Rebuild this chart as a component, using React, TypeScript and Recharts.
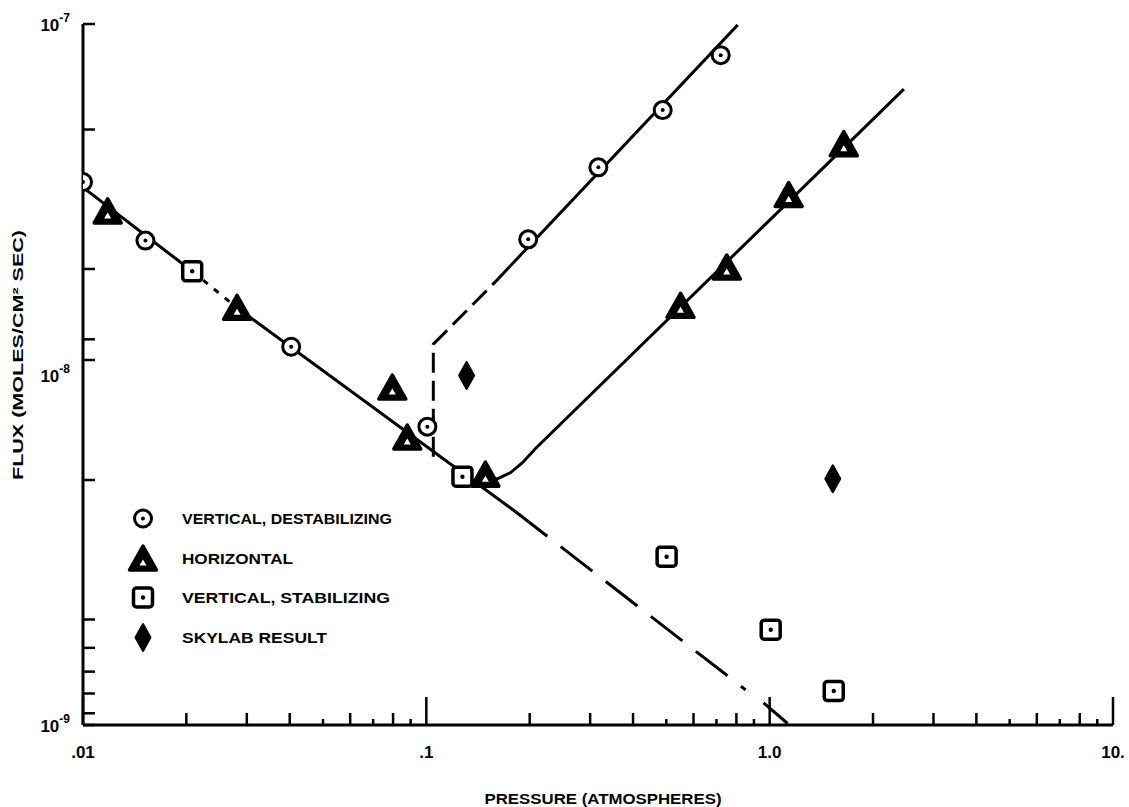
import { ScatterChart, Scatter, XAxis, YAxis, Legend } from 'recharts';

// Flux vs pressure, log-log.

const xTicks = [
  0.01, 0.02, 0.03, 0.04, 0.05, 0.06, 0.07, 0.08, 0.09,
  0.1, 0.2, 0.3, 0.4, 0.5, 0.6, 0.7, 0.8, 0.9,
  1, 2, 3, 4, 5, 6, 7, 8, 9, 10,
];
const xMajor = [0.01, 0.1, 1, 10];
const xMajorLabels = ['.01', '.1', '1.0', '10.'];
const xShortTicks = [0.05, 0.07, 0.09, 0.5, 0.7, 0.9, 5, 7, 9];

const yTicks = [1e-9, 1.08e-9, 1.23e-9, 1.42e-9, 1.66e-9, 2e-9, 5e-9, 1e-8, 1.1e-8, 1.26e-8, 2e-8, 5e-8, 1e-7];
const yDecades = [1e-9, 1e-8, 1e-7];
const yDecadeExp = ['-9', '-8', '-7'];

// measured points
const destabilizing = [
  { x: 0.01, y: 3.54e-8 },
  { x: 0.0152, y: 2.41e-8 },
  { x: 0.0404, y: 1.2e-8 },
  { x: 0.1007, y: 7.1e-9 },
  { x: 0.198, y: 2.43e-8 },
  { x: 0.317, y: 3.9e-8 },
  { x: 0.488, y: 5.68e-8 },
  { x: 0.72, y: 8.15e-8 },
];
const horizontal = [
  { x: 0.0118, y: 2.92e-8 },
  { x: 0.0281, y: 1.55e-8 },
  { x: 0.0796, y: 9.18e-9 },
  { x: 0.088, y: 6.61e-9 },
  { x: 0.1486, y: 5.18e-9 },
  { x: 0.55, y: 1.57e-8 },
  { x: 0.75, y: 2.02e-8 },
  { x: 1.136, y: 3.25e-8 },
  { x: 1.644, y: 4.54e-8 },
];
const stabilizing = [
  { x: 0.0208, y: 1.97e-8 },
  { x: 0.1274, y: 5.11e-9 },
  { x: 0.501, y: 3.02e-9 },
  { x: 1.007, y: 1.87e-9 },
  { x: 1.537, y: 1.25e-9 },
];
const skylab = [
  { x: 0.131, y: 9.94e-9 },
  { x: 1.527, y: 5.04e-9 },
];

// hand-drawn fit lines
const fallSolid1 = [{ x: 0.01, y: 3.42e-8 }, { x: 0.0208, y: 1.97e-8 }];
const fallDotted = [{ x: 0.0208, y: 1.97e-8 }, { x: 0.0281, y: 1.55e-8 }];
const fallSolid2 = [{ x: 0.0281, y: 1.55e-8 }, { x: 0.182, y: 4.06e-9 }];
const fallDashed = [{ x: 0.182, y: 4.06e-9 }, { x: 0.851, y: 1.26e-9 }];
const fallTail = [{ x: 0.96, y: 1.156e-9 }, { x: 1.128, y: 1.01e-9 }];
const riseDashed = [{ x: 0.1048, y: 5.83e-9 }, { x: 0.1048, y: 1.22e-8 }, { x: 0.159, y: 1.84e-8 }];
const riseSolid = [{ x: 0.159, y: 1.84e-8 }, { x: 0.807, y: 9.94e-8 }];
const horizCurve = [
  { x: 0.1437, y: 4.98e-9 },
  { x: 0.161, y: 5.04e-9 },
  { x: 0.176, y: 5.25e-9 },
  { x: 0.1905, y: 5.6e-9 },
  { x: 0.208, y: 6.15e-9 },
  { x: 2.46, y: 6.52e-8 },
];

const legendOrder = ['VERTICAL, DESTABILIZING', 'HORIZONTAL', 'VERTICAL, STABILIZING', 'SKYLAB RESULT'];

const FONT = '"Liberation Sans", Arial, sans-serif';

type Kind = 'circle' | 'triangle' | 'square' | 'diamond';

function Marker({ kind, cx, cy }: { kind: Kind; cx: number; cy: number }) {
  if (kind === 'circle') {
    return (
      <g transform={`translate(${cx},${cy})`}>
        <circle r={8.5} fill="#fff" stroke="#000" strokeWidth={3} />
        <circle r={2} fill="#000" />
      </g>
    );
  }
  if (kind === 'triangle') {
    return (
      <g transform={`translate(${cx},${cy})`}>
        <polygon points="0,-12.5 13.5,11.5 -13.5,11.5" fill="#000" stroke="#000" strokeWidth={3.5} strokeLinejoin="round" />
        <polygon points="0,1 3.5,7 -3.5,7" fill="#fff" />
      </g>
    );
  }
  if (kind === 'square') {
    return (
      <g transform={`translate(${cx},${cy})`}>
        <rect x={-9.5} y={-9.5} width={19} height={19} rx={3} fill="#fff" stroke="#000" strokeWidth={3.5} />
        <circle r={2.2} fill="#000" />
      </g>
    );
  }
  return (
    <g transform={`translate(${cx},${cy})`}>
      <polygon points="0,-13.5 7.5,0 0,13.5 -7.5,0" fill="#000" stroke="#000" strokeWidth={2} strokeLinejoin="round" />
    </g>
  );
}

const shapeOf = (kind: Kind) => (p: any) => <Marker kind={kind} cx={p.cx} cy={p.cy} />;
const noShape = () => <g />;

const legendKinds: Record<string, Kind> = {
  'VERTICAL, DESTABILIZING': 'circle',
  HORIZONTAL: 'triangle',
  'VERTICAL, STABILIZING': 'square',
  'SKYLAB RESULT': 'diamond',
};
const legendTextWidth: Record<string, number> = {
  'VERTICAL, DESTABILIZING': 210,
  HORIZONTAL: 111,
  'VERTICAL, STABILIZING': 208,
  'SKYLAB RESULT': 145,
};

function renderLegend(props: any) {
  const names = (props.payload || []).map((e: any) => e.value);
  const items = legendOrder.filter((n) => names.includes(n));
  return (
    <div>
      {items.map((name) => (
        <svg key={name} width={300} height={39.5} style={{ display: 'block' }}>
          <Marker kind={legendKinds[name]} cx={24} cy={19.5} />
          <text
            x={63}
            y={25}
            fontFamily={FONT}
            fontWeight={700}
            fontSize={14}
            textLength={legendTextWidth[name]}
            lengthAdjust="spacingAndGlyphs"
          >
            {name}
          </text>
        </svg>
      ))}
    </div>
  );
}

function XTick({ x, y, payload }: any) {
  const v = payload.value;
  const i = xMajor.indexOf(v);
  const len = i >= 0 ? 28 : xShortTicks.includes(v) ? 6 : 12;
  return (
    <g>
      <line x1={x} x2={x} y1={y} y2={y - len} stroke="#000" strokeWidth={2.5} />
      {i >= 0 && (
        <text x={x} y={y + 33} textAnchor="middle" fontFamily={FONT} fontWeight={700} fontSize={17} fill="#000">
          {xMajorLabels[i]}
        </text>
      )}
    </g>
  );
}

function YTick({ x, y, payload }: any) {
  const v = payload.value;
  const i = yDecades.indexOf(v);
  return (
    <g>
      {v !== 1e-8 && <line x1={x} x2={x + 12} y1={y} y2={y} stroke="#000" strokeWidth={2.5} />}
      {i >= 0 && (
        <text x={x - 13} y={y + 7} textAnchor="end" fontFamily={FONT} fontWeight={700} fontSize={17} fill="#000">
          10
          <tspan dy={-9} fontSize={12}>
            {yDecadeExp[i]}
          </tspan>
        </text>
      )}
    </g>
  );
}

const XTitle = ({ viewBox }: any) => (
  <text
    x={viewBox.x + viewBox.width / 2 + 5}
    y={796}
    textAnchor="middle"
    fontFamily={FONT}
    fontWeight={700}
    fontSize={14}
    textLength={237}
    lengthAdjust="spacingAndGlyphs"
  >
    PRESSURE (ATMOSPHERES)
  </text>
);

const YTitle = ({ viewBox }: any) => {
  const cx = viewBox.x - 5;
  const cy = viewBox.y + 331;
  return (
    <text
      x={cx}
      y={cy}
      transform={`rotate(-90 ${cx} ${cy})`}
      textAnchor="middle"
      dominantBaseline="central"
      fontFamily={FONT}
      fontWeight={700}
      fontSize={14}
      textLength={250}
      lengthAdjust="spacingAndGlyphs"
    >
      FLUX (MOLES/CM² SEC)
    </text>
  );
};

const solid = { stroke: '#000', strokeWidth: 3 };

export default function App() {
  // body margin moved into padding so the page box is exactly 1129x807
  return (
    <div style={{ width: 1121, height: 799, padding: '8px 0 0 8px', background: '#fff', overflow: 'visible' }}>
      <style>{'body{margin:0}'}</style>
      <ScatterChart width={1121} height={799} margin={{ top: 16, right: 16, bottom: 52, left: 15 }}>
        <XAxis
          type="number"
          dataKey="x"
          scale="log"
          domain={[0.01, 10]}
          allowDataOverflow
          ticks={xTicks}
          interval={0}
          tickSize={0}
          tickMargin={0}
          tickLine={false}
          axisLine={{ stroke: '#000', strokeWidth: 3 }}
          tick={XTick}
          height={30}
          label={XTitle}
        />
        <YAxis
          type="number"
          dataKey="y"
          scale="log"
          domain={[1e-9, 1e-7]}
          allowDataOverflow
          ticks={yTicks}
          interval={0}
          tickSize={0}
          tickMargin={0}
          tickLine={false}
          axisLine={{ stroke: '#000', strokeWidth: 3 }}
          tick={YTick}
          width={60}
          label={YTitle}
        />

        <Scatter data={fallSolid1} line={solid} lineType="joint" shape={noShape} legendType="none" isAnimationActive={false} />
        <Scatter data={fallDotted} line={{ ...solid, strokeDasharray: '6 8' }} lineType="joint" shape={noShape} legendType="none" isAnimationActive={false} />
        <Scatter data={fallSolid2} line={solid} lineType="joint" shape={noShape} legendType="none" isAnimationActive={false} />
        <Scatter data={fallDashed} line={{ ...solid, strokeDasharray: '40 17' }} lineType="joint" shape={noShape} legendType="none" isAnimationActive={false} />
        <Scatter data={fallTail} line={solid} lineType="joint" shape={noShape} legendType="none" isAnimationActive={false} />
        <Scatter data={riseDashed} line={{ ...solid, strokeDasharray: '20 8' }} lineType="joint" shape={noShape} legendType="none" isAnimationActive={false} />
        <Scatter data={riseSolid} line={solid} lineType="joint" shape={noShape} legendType="none" isAnimationActive={false} />
        <Scatter data={horizCurve} line={solid} lineType="joint" shape={noShape} legendType="none" isAnimationActive={false} />

        <Scatter name="VERTICAL, DESTABILIZING" data={destabilizing} fill="#000" shape={shapeOf('circle')} isAnimationActive={false} />
        <Scatter name="HORIZONTAL" data={horizontal} fill="#000" shape={shapeOf('triangle')} isAnimationActive={false} />
        <Scatter name="VERTICAL, STABILIZING" data={stabilizing} fill="#000" shape={shapeOf('square')} isAnimationActive={false} />
        <Scatter name="SKYLAB RESULT" data={skylab} fill="#000" shape={shapeOf('diamond')} isAnimationActive={false} />

        <Legend
          layout="vertical"
          align="center"
          verticalAlign="middle"
          content={renderLegend}
          wrapperStyle={{ left: 111, top: 491, width: 300, height: 160 }}
        />
      </ScatterChart>
    </div>
  );
}
